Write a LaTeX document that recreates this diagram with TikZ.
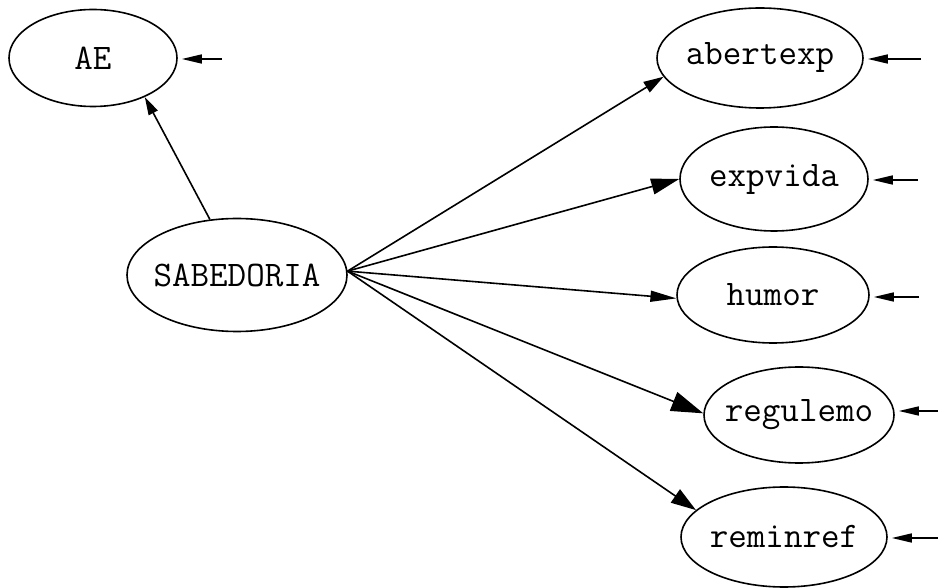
\documentclass[tikz,border=0pt]{standalone}
\usetikzlibrary{shapes.geometric,arrows.meta}
\begin{document}
\begin{tikzpicture}[x=0.5pt,y=-0.5pt,
  var/.style={draw,ellipse,line width=0.8pt,inner xsep=-9pt,inner ysep=0pt,font=\fontsize{18pt}{20pt}\ttfamily},
  edge/.style={line width=0.8pt},
  ext/.style={line width=0.8pt,-{Triangle[length=10pt,width=4.5pt]},shorten >=2pt}]
\useasboundingbox (0,0) rectangle (938,588);
\node[var,minimum width=84pt,minimum height=48.5pt] (AE) at (93,58) {AE};
\node[var,minimum width=110pt,minimum height=56.5pt] (S) at (237,275) {SABEDORIA};
\node[var,minimum width=103pt,minimum height=50pt] (ab) at (760,58) {abertexp};
\node[var,minimum width=94pt,minimum height=52pt] (ev) at (774,179) {expvida};
\node[var,minimum width=96pt,minimum height=48pt] (hu) at (773,295) {humor};
\node[var,minimum width=95pt,minimum height=48pt] (re) at (799,415) {regulemo};
\node[var,minimum width=103pt,minimum height=50pt] (rm) at (784,537) {reminref};
\coordinate (AEi) at (222,59);
\coordinate (abi) at (921,59);
\coordinate (evi) at (918,180);
\coordinate (hui) at (919,297);
\coordinate (rei) at (938,411);
\coordinate (rmi) at (938,538);
\draw[edge,-{Triangle[length=9pt,width=5pt]}] (S.116) -- (AE.-37);
\draw[edge,-{Triangle[length=10pt,width=6pt]}] (S.2.6) -- (ab.191);
\draw[edge,-{Triangle[length=14pt,width=8pt]}] (S.2.6) -- (ev.180);
\draw[edge,-{Triangle[length=13pt,width=5.5pt]}] (S.2.6) -- (hu.182);
\draw[edge,-{Triangle[length=16pt,width=10pt]}] (S.2.6) -- (re.179);
\draw[edge,-{Triangle[length=12.5pt,width=8pt]}] (S.2.6) -- (rm.163);
\draw[ext] (AEi) -- (AEi -| AE.east);
\draw[ext] (abi) -- (abi -| ab.east);
\draw[ext] (evi) -- (evi -| ev.east);
\draw[ext] (hui) -- (hui -| hu.east);
\draw[ext] (rei) -- (rei -| re.east);
\draw[ext] (rmi) -- (rmi -| rm.east);
\end{tikzpicture}
\end{document}
